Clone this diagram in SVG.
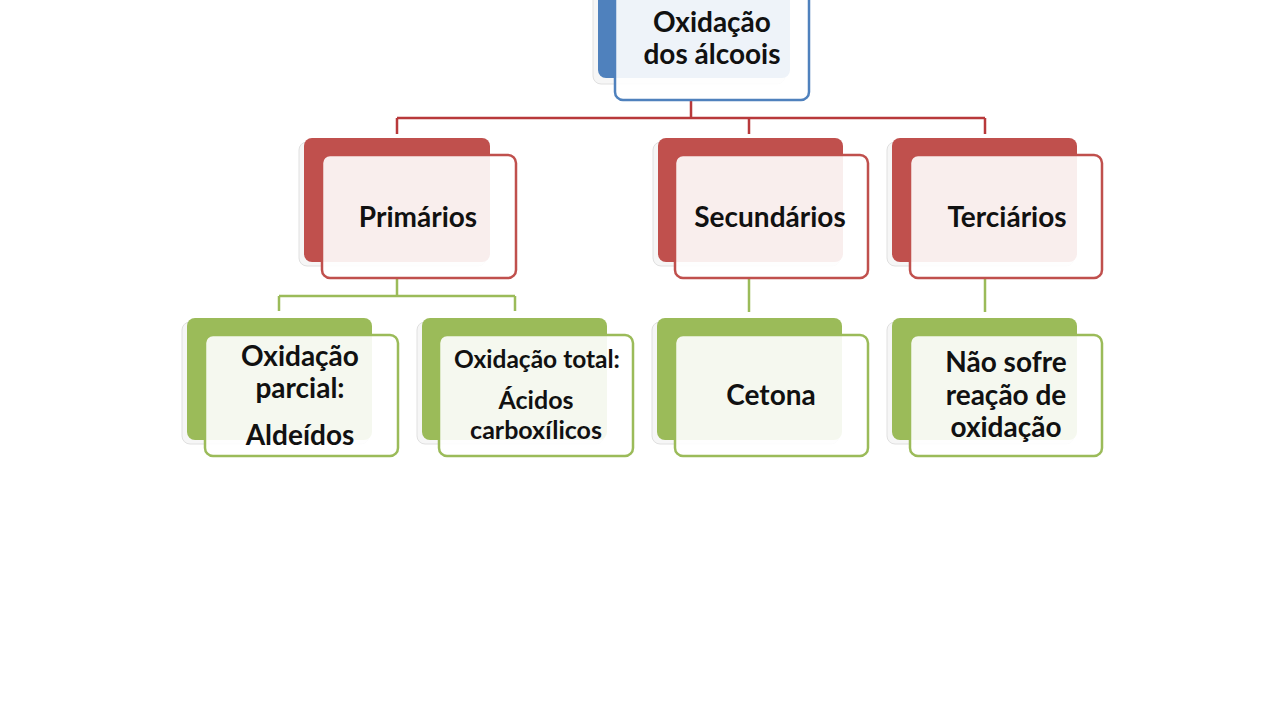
<svg xmlns="http://www.w3.org/2000/svg" width="1280" height="720" viewBox="0 0 1280 720">
<defs>
<style>
.sh{fill:#f6f6f6;stroke:#e0e0e0;stroke-width:1}
.bk-r{fill:#c0504d}
.bk-g{fill:#9bbb59}
.bk-b{fill:#4f81bd}
.fr{fill:#ffffff;fill-opacity:0.9;stroke-width:2.5}
.fr-r{stroke:#c0504d}
.fr-g{stroke:#9bbb59}
.fr-b{stroke:#4f81bd}
.t{font-family:Lato,"Open Sans","Liberation Sans",sans-serif;font-weight:700;fill:#111;text-anchor:middle;font-size:28px}
.cr{stroke:#b8393b;stroke-width:2.5;fill:none}
.cg{stroke:#9bbb59;stroke-width:2.5;fill:none}
</style>
</defs>
<rect width="1280" height="720" fill="#ffffff"/>
<g id="connectors">
<path class="cr" d="M691 100V118M397 118H985M397 118V134M749 118V134M985 118V134"/>
<path class="cg" d="M397 279V296M279 296H515M279 296V311M515 296V311M749 279V312M985 279V312"/>
</g>
<g id="node-top">
<rect class="sh" x="593" y="-20" width="192" height="104" rx="8"/>
<rect class="bk-b" x="598" y="-24" width="192" height="102" rx="8"/>
<rect class="fr fr-b" x="615" y="-8" width="194" height="108" rx="8"/>
<text class="t" x="712" y="32">Oxidação</text>
<text class="t" x="712" y="64">dos álcoois</text>
</g>
<g id="node-primarios">
<rect class="sh" x="299" y="142" width="187" height="124" rx="8"/>
<rect class="bk-r" x="304" y="138" width="186" height="124" rx="8"/>
<rect class="fr fr-r" x="322" y="155" width="194" height="123" rx="8"/>
<text class="t" x="418" y="227">Primários</text>
</g>
<g id="node-secundarios">
<rect class="sh" x="653" y="142" width="187" height="124" rx="8"/>
<rect class="bk-r" x="658" y="138" width="185" height="124" rx="8"/>
<rect class="fr fr-r" x="675" y="155" width="193" height="123" rx="8"/>
<text class="t" x="770" y="227">Secundários</text>
</g>
<g id="node-terciarios">
<rect class="sh" x="887" y="142" width="187" height="124" rx="8"/>
<rect class="bk-r" x="892" y="138" width="185" height="124" rx="8"/>
<rect class="fr fr-r" x="910" y="155" width="192" height="123" rx="8"/>
<text class="t" x="1007" y="227">Terciários</text>
</g>
<g id="node-parcial">
<rect class="sh" x="182" y="322" width="187" height="122" rx="8"/>
<rect class="bk-g" x="187" y="318" width="185" height="122" rx="8"/>
<rect class="fr fr-g" x="205" y="335" width="193" height="121" rx="8"/>
<text class="t" x="300" y="366">Oxidação</text>
<text class="t" x="300" y="398">parcial:</text>
<text class="t" x="300" y="445">Aldeídos</text>
</g>
<g id="node-total">
<rect class="sh" x="417" y="322" width="187" height="122" rx="8"/>
<rect class="bk-g" x="422" y="318" width="185" height="122" rx="8"/>
<rect class="fr fr-g" x="439" y="335" width="194" height="121" rx="8"/>
<text class="t" x="537" y="368" style="font-size:24.5px">Oxidação total:</text>
<text class="t" x="536" y="409" style="font-size:25px">Ácidos</text>
<text class="t" x="536" y="439" style="font-size:25px">carboxílicos</text>
</g>
<g id="node-cetona">
<rect class="sh" x="652" y="322" width="187" height="122" rx="8"/>
<rect class="bk-g" x="657" y="318" width="185" height="122" rx="8"/>
<rect class="fr fr-g" x="675" y="335" width="193" height="121" rx="8"/>
<text class="t" x="771" y="405">Cetona</text>
</g>
<g id="node-nao">
<rect class="sh" x="887" y="322" width="187" height="122" rx="8"/>
<rect class="bk-g" x="892" y="318" width="185" height="122" rx="8"/>
<rect class="fr fr-g" x="910" y="335" width="192" height="121" rx="8"/>
<text class="t" x="1006" y="372">Não sofre</text>
<text class="t" x="1006" y="405">reação de</text>
<text class="t" x="1006" y="437">oxidação</text>
</g>
</svg>
